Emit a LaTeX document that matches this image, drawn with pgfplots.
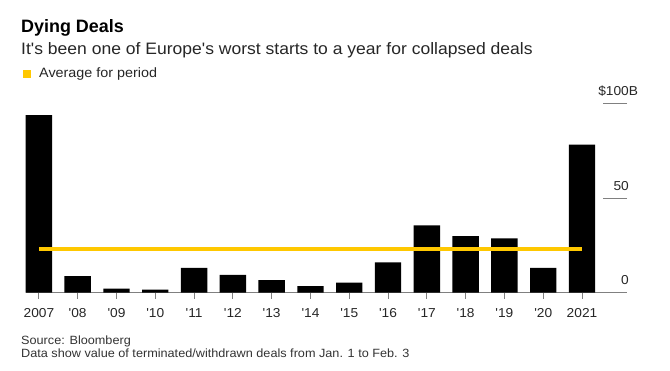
\documentclass[border=0pt]{standalone}
\usepackage{pgfplots}
\pgfplotsset{compat=1.18}
\usepackage{fontspec}
\setmainfont{Liberation Sans}[Ligatures=TeXOff, FakeStretch=1.06]
\newfontfamily\titlefont{Liberation Sans}[Ligatures=TeXOff]
\definecolor{avg}{HTML}{FFC800}
\definecolor{axgray}{HTML}{808080}
\begin{document}
\begin{tikzpicture}[x=1bp,y=1bp]
\useasboundingbox (0,0) rectangle (670,370);
\node[anchor=base west, inner sep=0pt, font=\titlefont\fontsize{18}{20}\selectfont\bfseries] at (21,338) {Dying Deals};
\node[anchor=base west, inner sep=0pt, font=\fontsize{16.6}{18}\selectfont, text=black!85] at (21,316) {It's been one of Europe's worst starts to a year for collapsed deals};
\fill[avg] (23,292) rectangle (31,300);
\node[anchor=base west, inner sep=0pt, font=\fontsize{13.6}{15}\selectfont, text=black!85] at (39,293) {Average for period};
\node[anchor=base west, inner sep=0pt, font=\fontsize{12}{14}\selectfont, text=black!80] at (21,26) {Source: Bloomberg};
\node[anchor=base west, inner sep=0pt, font=\fontsize{12}{14}\selectfont, text=black!80] at (21,13) {Data show value of terminated/withdrawn deals from Jan. 1 to Feb. 3};
\begin{axis}[
  at={(25.7bp,77.5bp)}, anchor=south west, scale only axis,
  width=601.3bp, height=188.8bp,
  xmin=-0.34, xmax=15.16, ymin=0, ymax=100,
  clip=false,
  axis x line*=bottom, axis y line*=right,
  x axis line style={axgray, line width=1bp},
  y axis line style={draw=none},
  xtick={0,...,14},
  xticklabels={2007,'08,'09,'10,'11,'12,'13,'14,'15,'16,'17,'18,'19,'20,2021},
  tick align=outside, major tick length=6bp,
  xtick style={axgray, line width=1bp},
  xticklabel style={font=\fontsize{13}{15}\selectfont, text=black!85, anchor=base, inner sep=0pt, yshift=-19bp},
  ytick={0,50,100},
  yticklabels={0,50,{\llap{\$}100\rlap{B}}},
  ytick style={draw=none},
  yticklabel pos=right,
  yticklabel style={font=\fontsize{13}{15}\selectfont, text=black!85, anchor=base east, inner sep=0pt, xshift=-4bp, yshift=8bp},
]
\addplot[ybar, bar width=0.68, fill=black, draw=none] coordinates {
  (0,94.0) (1,8.7) (2,2.0) (3,1.5) (4,13.0) (5,9.3) (6,6.6) (7,3.4)
  (8,5.2) (9,16.0) (10,35.6) (11,29.9) (12,28.7) (13,13.0) (14,78.3)
};
\addplot[avg, line width=4bp] coordinates {(0,23.0) (14,23.0)};
\draw[axgray, line width=1bp] (rel axis cs:1,0.5) -- ++(-24bp,0bp);
\draw[axgray, line width=1bp] (rel axis cs:1,1) -- ++(-24bp,0bp);
\end{axis}
\end{tikzpicture}
\end{document}
